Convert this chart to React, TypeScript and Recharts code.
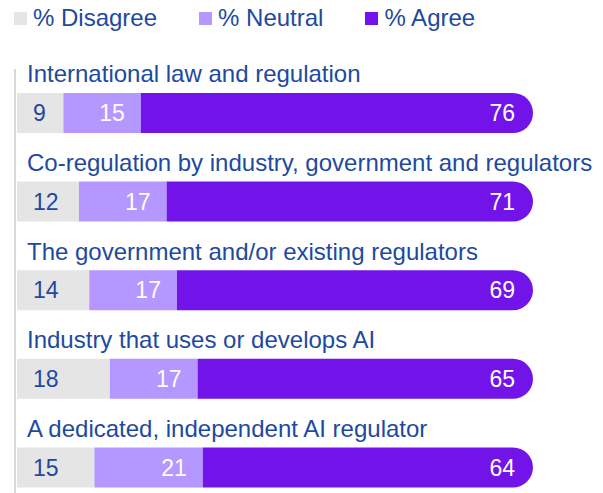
import { BarChart, Bar, XAxis, YAxis, Legend, LabelList } from 'recharts';

const categories = [
  'International law and regulation',
  'Co-regulation by industry, government and regulators',
  'The government and/or existing regulators',
  'Industry that uses or develops AI',
  'A dedicated, independent AI regulator',
];
const disagree = [9, 12, 14, 18, 15];
const neutral = [15, 17, 17, 17, 21];
const agree = [76, 71, 69, 65, 64];

const SERIES = [
  { key: 'disagree', name: '% Disagree', color: '#e5e5e5' },
  { key: 'neutral', name: '% Neutral', color: '#b497ff' },
  { key: 'agree', name: '% Agree', color: '#7213ea' },
];

const TEXT = '#1e49a0';
const FONT = '"Liberation Sans", Arial, sans-serif';

const data = categories.map((category, i) => ({
  category,
  disagree: disagree[i],
  neutral: neutral[i],
  agree: agree[i],
}));

const renderLegend = () => (
  <div style={{ display: 'flex', alignItems: 'center', height: 36, paddingLeft: 14, fontFamily: FONT, fontSize: 24, color: TEXT }}>
    {SERIES.map((s, i) => (
      <div key={s.key} style={{ display: 'flex', alignItems: 'center', marginRight: i < SERIES.length - 1 ? 42 : 0 }}>
        <span style={{ width: 13, height: 13, background: s.color, marginRight: 6, display: 'inline-block' }} />
        <span>{s.name}</span>
      </div>
    ))}
  </div>
);

// category label sits above its bar
const CategoryTick = (props: any) => {
  const { y, payload } = props;
  return (
    <text x={27} y={y - 31} fill={TEXT} fontSize={24} fontFamily={FONT} textAnchor="start">
      {payload.value}
    </text>
  );
};

export default function App() {
  return (
    <div style={{ position: 'absolute', left: 0, top: 0, width: 603, height: 493, overflow: 'hidden', background: '#fff' }}>
      <BarChart
        width={603}
        height={520}
        data={data}
        layout="vertical"
        barSize={40}
        margin={{ top: 33, right: 70, left: 0, bottom: 8 }}
      >
        <Legend verticalAlign="top" align="left" content={renderLegend} wrapperStyle={{ top: 0, left: 0 }} />
        <XAxis type="number" domain={[0, 100]} hide padding={{ left: 2, right: 0 }} />
        <YAxis
          type="category"
          dataKey="category"
          width={15}
          interval={0}
          tickLine={false}
          axisLine={{ stroke: '#d9d9d9', strokeWidth: 2 }}
          tick={<CategoryTick />}
        />
        <Bar dataKey="disagree" name="% Disagree" stackId="a" fill={SERIES[0].color} isAnimationActive={false}>
          <LabelList dataKey="disagree" position="insideLeft" offset={16} fill={TEXT} fontSize={23} fontFamily={FONT} />
        </Bar>
        <Bar dataKey="neutral" name="% Neutral" stackId="a" fill={SERIES[1].color} isAnimationActive={false}>
          <LabelList dataKey="neutral" position="insideRight" offset={16} fill="#fff" fontSize={23} fontFamily={FONT} />
        </Bar>
        <Bar dataKey="agree" name="% Agree" stackId="a" fill={SERIES[2].color} radius={[0, 20, 20, 0]} isAnimationActive={false}>
          <LabelList dataKey="agree" position="insideRight" offset={18} fill="#fff" fontSize={23} fontFamily={FONT} />
        </Bar>
      </BarChart>
    </div>
  );
}
